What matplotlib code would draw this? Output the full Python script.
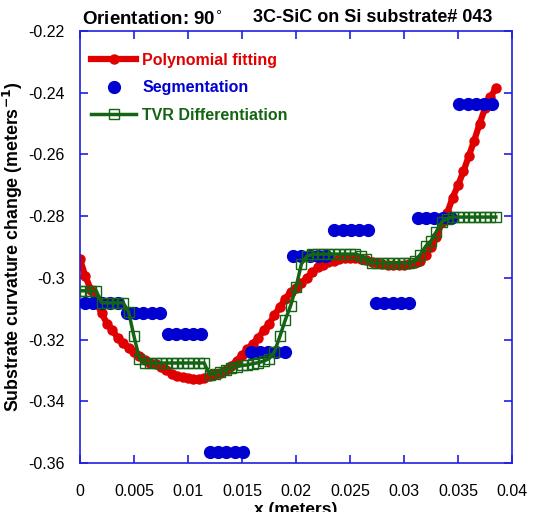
import matplotlib
matplotlib.use('Agg')
import matplotlib.pyplot as plt
from matplotlib.ticker import FuncFormatter, MultipleLocator
import numpy as np

plt.rcParams['font.family'] = ['Liberation Sans', 'DejaVu Sans']

# Polynomial fit, sampled every 0.5 mm
poly_step = 0.0005
poly_y = [
    -0.2940, -0.2995, -0.3038, -0.3078, -0.3115, -0.3148, -0.3170, -0.3195,
    -0.3212, -0.3227, -0.3240, -0.3252, -0.3265, -0.3275, -0.3280, -0.3288,
    -0.3300, -0.3313, -0.3318, -0.3322, -0.3325, -0.3327, -0.3328, -0.3325,
    -0.3318, -0.3313, -0.3307, -0.3300, -0.3285, -0.3268, -0.3250, -0.3232,
    -0.3213, -0.3195, -0.3170, -0.3150, -0.3120, -0.3095, -0.3068, -0.3045,
    -0.3033, -0.3018, -0.3000, -0.2982, -0.2966, -0.2958, -0.2950, -0.2944,
    -0.2940, -0.2937, -0.2936, -0.2937, -0.2940, -0.2943, -0.2948, -0.2952,
    -0.2955, -0.2957, -0.2958, -0.2958, -0.2958, -0.2956, -0.2952, -0.2945,
    -0.2925, -0.2900, -0.2868, -0.2820, -0.2790, -0.2740, -0.2700, -0.2655,
    -0.2605, -0.2555, -0.2500, -0.2450, -0.2415, -0.2385,
]

# Segmentation: 10 segments, 5 points each
seg_first_x = 0.00046
seg_step = 0.00077
seg_levels = [-0.3080, -0.3114, -0.3182, -0.3564, -0.3239,
              -0.2929, -0.2845, -0.3080, -0.2805, -0.2437]
seg_per_group = 5

# TVR differentiation, sampled every 0.5 mm
tvr_step = 0.0005
tvr_y = [
    -0.3042, -0.3042, -0.3042, -0.3042, -0.3081, -0.3081, -0.3081, -0.3081,
    -0.3081, -0.3110, -0.3190, -0.3262, -0.3276,
    -0.3276, -0.3276, -0.3276, -0.3276, -0.3276, -0.3276, -0.3276, -0.3276,
    -0.3276, -0.3276, -0.3276,
    -0.3315, -0.3310, -0.3305, -0.3298, -0.3292, -0.3288, -0.3284, -0.3282,
    -0.3278, -0.3275, -0.3270, -0.3262,
    -0.3240, -0.3190, -0.3137, -0.3090, -0.3030, -0.2955, -0.2930, -0.2924,
    -0.2923, -0.2923, -0.2923, -0.2923, -0.2923, -0.2923, -0.2923, -0.2923,
    -0.2928, -0.2940, -0.2952,
    -0.2952, -0.2952, -0.2952, -0.2952, -0.2952, -0.2952, -0.2952,
    -0.2945, -0.2925, -0.2898, -0.2880, -0.2850, -0.2818, -0.2808,
    -0.2803, -0.2803, -0.2803, -0.2803, -0.2803, -0.2803, -0.2803, -0.2803,
    -0.2803,
]

poly_x = np.arange(len(poly_y)) * poly_step
tvr_x = np.arange(len(tvr_y)) * tvr_step
seg_x = seg_first_x + np.arange(len(seg_levels) * seg_per_group) * seg_step
seg_y = np.repeat(seg_levels, seg_per_group)

red = '#e10000'
blue = '#0000d0'
green = '#146414'
axis_blue = '#2020e0'

fig = plt.figure(figsize=(5.37, 5.12), dpi=100)
ax = fig.add_axes([0.149, 0.0957, 0.8045, 0.8438])

ax.plot(poly_x, poly_y, color=red, linewidth=4.5, marker='o', markersize=6.5,
        markeredgecolor=red, label='Polynomial fitting', zorder=2)
ax.plot(seg_x, seg_y, linestyle='none', marker='o', markersize=8.5,
        color=blue, label='Segmentation', zorder=3)
ax.plot(tvr_x, tvr_y, color=green, linewidth=2.5, marker='s', markersize=7,
        markerfacecolor='none', markeredgecolor=green, markeredgewidth=1,
        label='TVR Differentiation', zorder=4)

ax.set_xlim(0, 0.04)
ax.set_ylim(-0.36, -0.22)
ax.xaxis.set_major_locator(MultipleLocator(0.005))
ax.yaxis.set_major_locator(MultipleLocator(0.02))
fmt = FuncFormatter(lambda v, p: '%g' % round(v, 4))
ax.xaxis.set_major_formatter(fmt)
ax.yaxis.set_major_formatter(fmt)

for s in ax.spines.values():
    s.set_color(axis_blue)
    s.set_linewidth(1.2)
ax.tick_params(direction='in', length=6, width=1.2, color=axis_blue,
               top=True, right=True, labelsize=11.5, labelcolor='black')
ax.tick_params(axis='x', pad=15)
ax.tick_params(axis='y', pad=11)

ax.set_ylabel('Substrate curvature change (meters$^{\\mathbf{-1}}$)',
              fontsize=12.8, fontweight='bold')
ax.yaxis.set_label_coords(-0.127, 0.5)
ax.set_xlabel('x (meters)', fontsize=12.5, fontweight='bold', labelpad=2)

fig.text(0.153, 0.962, 'Orientation: 90$^{\\circ}$', fontsize=13.5,
         fontweight='bold', va='center')
fig.text(0.471, 0.965, '3C-SiC on Si substrate# 043', fontsize=13,
         fontweight='bold', va='center')

leg = ax.legend(loc='upper left', frameon=False,
                prop={'weight': 'bold', 'size': 11.5}, handlelength=2.8,
                handletextpad=0.4, borderaxespad=0.3, labelspacing=0.78,
                bbox_to_anchor=(0.0, 0.975))
for txt, c in zip(leg.get_texts(), [red, blue, green]):
    txt.set_color(c)

fig.savefig('out.png', dpi=100)
